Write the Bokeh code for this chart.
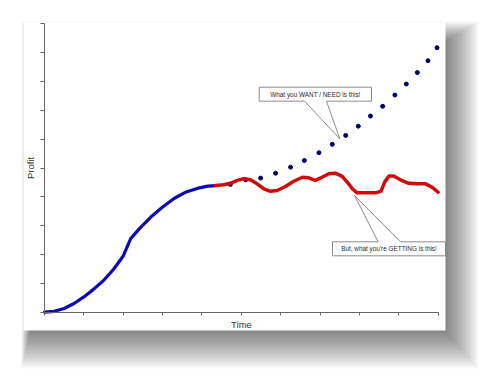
import numpy as np
from bokeh.plotting import figure
from bokeh.models import Range1d, LinearAxis, FixedTicker
from bokeh.core.properties import value
from bokeh.embed import file_html
from bokeh.resources import INLINE

# ---------------- data ----------------
blue_x = [0.0, 0.25, 0.5, 0.75, 1.0, 1.25, 1.5, 1.75, 2.0, 2.19, 2.4, 2.7, 3.0, 3.3, 3.6, 3.9, 4.15, 4.35]
blue_y = [0.0, 0.03, 0.13, 0.30, 0.53, 0.80, 1.10, 1.48, 1.95, 2.55, 2.88, 3.30, 3.65, 3.95, 4.17, 4.30, 4.37, 4.39]

red_x = [4.34, 4.55, 4.72, 4.90, 5.06, 5.23, 5.40, 5.57, 5.74, 5.91, 6.12, 6.33, 6.55, 6.71, 6.88,
         7.05, 7.22, 7.39, 7.56, 7.69, 7.82, 7.94, 8.20, 8.41, 8.55, 8.64, 8.75, 8.87, 9.04, 9.25,
         9.47, 9.68, 9.85, 10.0]
red_y = [4.39, 4.42, 4.47, 4.57, 4.63, 4.59, 4.45, 4.28, 4.19, 4.22, 4.36, 4.54, 4.68, 4.66, 4.57,
         4.68, 4.80, 4.82, 4.71, 4.51, 4.28, 4.14, 4.14, 4.14, 4.20, 4.51, 4.72, 4.72, 4.59, 4.47,
         4.45, 4.45, 4.33, 4.16]

want_x = [4.72, 5.11, 5.49, 5.87, 6.25, 6.60, 6.97, 7.31, 7.65, 7.97, 8.28, 8.59, 8.90, 9.19, 9.47, 9.74, 9.97]
want_y = [4.43, 4.59, 4.65, 4.82, 5.03, 5.26, 5.53, 5.82, 6.13, 6.45, 6.80, 7.14, 7.53, 7.91, 8.31, 8.72, 9.17]

x_ticks = list(range(0, 11))
y_ticks = list(range(0, 11))
x_label = "Time"
y_label = "Profit"
want_text = "What you WANT / NEED is this!"
get_text = "But, what you're GETTING is this!"

# ---------------- layout ----------------
W, H = 491, 376
X0_PX, X10_PX = 44.0, 437.7
Y0_PX, Y10_PX = 311.7, 23.3
SX = (X10_PX - X0_PX) / 10.0
SY = (Y0_PX - Y10_PX) / 10.0


def dx(px):
    return (px - X0_PX) / SX


def dy(py):
    return (Y0_PX - py) / SY


FONT = "Liberation Sans"

p = figure(width=W, height=H,
           x_range=Range1d(dx(0), dx(W)), y_range=Range1d(dy(H), dy(0)),
           x_axis_type=None, y_axis_type=None,
           toolbar_location=None, output_backend="svg", min_border=0)
p.outline_line_color = None
p.background_fill_color = "white"
p.border_fill_color = "white"

# soft drop shadow of the card
N = 30
for i in range(N):
    t = i / (N - 1)
    p.quad(left=dx(32 - 11 * t), right=dx(438 + 40 * t),
           top=dy(46 - 25 * t), bottom=dy(322 + 46 * t),
           fill_color="black", fill_alpha=0.022, line_color=None)

# white card
p.quad(left=dx(23), right=dx(445), top=dy(22), bottom=dy(330),
       fill_color="white", line_color=None)


# callouts
def callout_down(x0, x1, ytop, ybot, b1, b2, tipx, tipy):
    xs = [x0, x1, x1, b2, tipx, b1, x0]
    ys = [ytop, ytop, ybot, ybot, tipy, ybot, ybot]
    return xs, ys


def callout_up(x0, x1, ytop, ybot, b1, b2, tipx, tipy):
    xs = [x0, b1, tipx, b2, x1, x1, x0]
    ys = [ytop, ytop, tipy, ytop, ytop, ybot, ybot]
    return xs, ys


c1x, c1y = callout_down(dx(258.7), dx(371), dy(86.7), dy(100.7), dx(304), dx(326), dx(339.3), dy(138.3))
p.patch(c1x, c1y, fill_color="white", line_color="#707070", line_width=0.8)
p.text(x=[(dx(258.7) + dx(371)) / 2], y=[(dy(86.7) + dy(100.7)) / 2], text=[want_text],
       text_font=value(FONT), text_font_size=value("6.4px"), text_color="#2a2a2a",
       text_align="center", text_baseline="middle")

c2x, c2y = callout_up(dx(332), dx(445), dy(241.3), dy(255.3), dx(377.7), dx(400), dx(354), dy(195))
p.patch(c2x, c2y, fill_color="white", line_color="#707070", line_width=0.8)
p.text(x=[(dx(332) + dx(445)) / 2], y=[(dy(241.3) + dy(255.3)) / 2], text=[get_text],
       text_font=value(FONT), text_font_size=value("6.4px"), text_color="#2a2a2a",
       text_align="center", text_baseline="middle")

# data marks
p.scatter(want_x, want_y, size=4, color="#00006e")
p.line(blue_x, blue_y, line_width=3.2, color="#0a0ab8", line_cap="round", line_join="round")
p.line(red_x, red_y, line_width=3.5, color="#d20a0a", line_cap="round", line_join="round")

# axes (unlabelled ticks)
xaxis = LinearAxis(fixed_location=0, bounds=(0, 10), ticker=FixedTicker(ticks=x_ticks),
                   axis_label=x_label)
yaxis = LinearAxis(fixed_location=0, bounds=(0, 10), ticker=FixedTicker(ticks=y_ticks),
                   axis_label=y_label)
for ax in (xaxis, yaxis):
    ax.axis_line_color = "#666666"
    ax.axis_line_width = 1
    ax.major_tick_line_color = "#666666"
    ax.major_tick_in = 0
    ax.minor_tick_in = 0
    ax.minor_tick_out = 0
    ax.major_label_text_font_size = "0px"
    ax.major_label_text_color = None
    ax.major_label_standoff = 0
    ax.axis_label_text_font = FONT
    ax.axis_label_text_font_size = "9.5px"
    ax.axis_label_text_font_style = "normal"
    ax.axis_label_text_color = "#333333"
xaxis.major_tick_out = 3
xaxis.axis_label_standoff = 3
yaxis.major_tick_out = 4
yaxis.axis_label_standoff = 5
p.add_layout(xaxis, "below")
p.add_layout(yaxis, "left")

open("out.html", "w").write(file_html(p, INLINE))
